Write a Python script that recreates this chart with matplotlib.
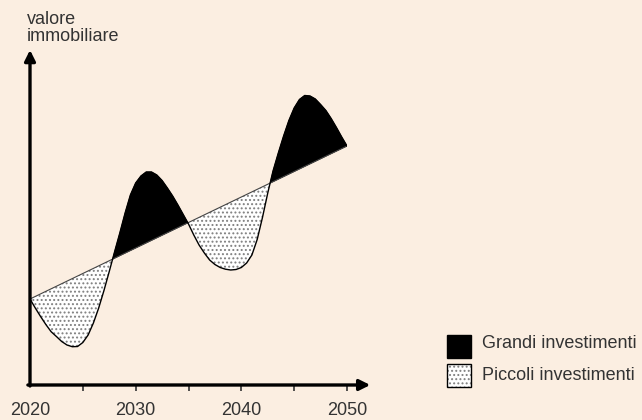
import matplotlib.pyplot as plt
import matplotlib.patches as mpatches
import numpy as np

plt.rcParams['font.family'] = ['Liberation Sans', 'DejaVu Sans']
plt.rcParams['hatch.linewidth'] = 0.9

# curve, half-year steps 2020..2050
years = np.arange(2020, 2050.01, 0.5)
valore = [8.60, 7.70, 6.85, 6.05, 5.33, 4.85, 4.35, 4.00, 3.83, 3.85,
          4.25, 5.00, 6.20, 7.70, 9.45, 11.35, 13.30, 15.20, 17.20, 19.00,
          20.20, 20.90, 21.30, 21.30, 21.00, 20.45, 19.70, 18.90, 18.00, 17.05,
          16.10, 15.00, 14.00, 13.20, 12.50, 12.05, 11.75, 11.58, 11.50, 11.55,
          11.75, 12.20, 13.00, 14.55, 16.75, 19.20, 21.40, 23.20, 24.90, 26.45,
          27.70, 28.55, 28.95, 28.90, 28.60, 28.05, 27.45, 26.65, 25.75, 24.80,
          23.90]
trend_years = [2020, 2050]
trend_vals = [8.6, 23.9]

tick_major = [2020, 2030, 2040, 2050]
tick_minor = [2025, 2035, 2045]
legend_labels = ['Grandi investimenti', 'Piccoli investimenti']

bg = '#fbeee1'
txt = '#333333'
fs = 13

valore = np.array(valore)
trend = np.interp(years, trend_years, trend_vals)

fig = plt.figure(figsize=(6.42, 4.2), dpi=100, facecolor=bg)
ax = fig.add_axes([30/642, 35/420, 317/642, 335/420])
ax.set_facecolor(bg)
ax.set_xlim(2020, 2050)
ax.set_ylim(0, 33.5)

ax.fill_between(years, valore, trend, where=valore >= trend, interpolate=True,
                facecolor='black', edgecolor='black', linewidth=0.5)
ax.fill_between(years, valore, trend, where=valore <= trend, interpolate=True,
                facecolor='white', edgecolor='#808080', hatch='....', linewidth=0)
ax.plot(trend_years, trend_vals, color='#444444', lw=0.8)
ax.plot(years, valore, color='black', lw=1.0)

for s in ax.spines.values():
    s.set_visible(False)

# axes with arrow heads
ax.annotate('', xy=(2052.2, 0), xytext=(2019.8, 0), annotation_clip=False,
            arrowprops=dict(arrowstyle='-|>', lw=2.4, color='black',
                            mutation_scale=16, shrinkA=0, shrinkB=0))
ax.annotate('', xy=(2020, 33.5), xytext=(2020, -0.1), annotation_clip=False,
            arrowprops=dict(arrowstyle='-|>', lw=2.4, color='black',
                            mutation_scale=16, shrinkA=0, shrinkB=0))

ax.set_xticks(tick_major)
ax.set_xticks(tick_minor, minor=True)
ax.set_xticklabels([str(t) for t in tick_major])
ax.tick_params(axis='x', which='both', length=4, width=1.2, color='#333333',
               labelsize=fs, labelcolor=txt, pad=8)
ax.tick_params(axis='y', left=False, labelleft=False)
ax.get_xticklines()[0].set_visible(False)

fig.text(27/642, 1 - 11/420, 'valore\nimmobiliare', ha='left', va='top',
         fontsize=fs, color=txt, linespacing=1.0)

# legend
fig.patches.append(mpatches.Rectangle((447/642, 1 - 358/420), 24/642, 23/420,
                                      transform=fig.transFigure,
                                      facecolor='black', edgecolor='black'))
fig.patches.append(mpatches.Rectangle((447/642, 1 - 387/420), 24/642, 23/420,
                                      transform=fig.transFigure, facecolor='white',
                                      edgecolor='#808080', hatch='....', lw=0))
fig.patches.append(mpatches.Rectangle((447/642, 1 - 387/420), 24/642, 23/420,
                                      transform=fig.transFigure, facecolor='none',
                                      edgecolor='black', lw=1.0))
fig.text(482/642, 1 - 344/420, legend_labels[0], ha='left', va='center',
         fontsize=fs, color=txt)
fig.text(482/642, 1 - 376/420, legend_labels[1], ha='left', va='center',
         fontsize=fs, color=txt)

fig.savefig('out.png', dpi=100, facecolor=bg)
